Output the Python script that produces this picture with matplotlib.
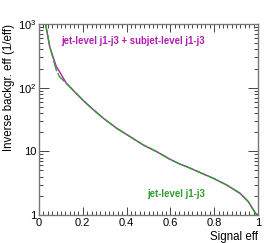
import matplotlib
matplotlib.use("Agg")
import matplotlib.pyplot as plt
from matplotlib.ticker import FixedLocator, FixedFormatter, LogLocator, NullFormatter, MultipleLocator

plt.rcParams['font.family'] = ['Liberation Sans', 'DejaVu Sans']
plt.rcParams['mathtext.fontset'] = 'custom'
plt.rcParams['mathtext.rm'] = 'Liberation Sans'

eff_combined = [0.02, 0.03, 0.049, 0.064, 0.079, 0.094, 0.125, 0.163, 0.2, 0.233, 0.294,
                0.355, 0.416, 0.476, 0.537, 0.598, 0.644, 0.682, 0.72, 0.796, 0.857,
                0.918, 0.956, 0.979, 0.99, 1.0]
rej_combined = [1000, 1000, 440, 305, 215, 178, 117, 86, 64, 50, 33,
                23, 17, 12.6, 9.9, 7.5, 6.3, 5.6, 4.9, 3.77, 2.96,
                2.19, 1.62, 1.2, 1.05, 1.0]

eff_jet = [0.02, 0.03, 0.049, 0.064, 0.079, 0.094, 0.125, 0.163, 0.2, 0.233, 0.294,
           0.355, 0.416, 0.476, 0.537, 0.598, 0.644, 0.682, 0.72, 0.796, 0.857,
           0.918, 0.956, 0.979, 0.99, 1.0]
rej_jet = [1000, 1000, 440, 290, 189, 148, 117, 86, 64, 50, 33,
           23, 17, 12.6, 9.9, 7.5, 6.3, 5.6, 4.9, 3.77, 2.96,
           2.19, 1.62, 1.2, 1.05, 1.0]

x_ticks = [0, 0.2, 0.4, 0.6, 0.8, 1.0]
x_tick_labels = ['0', '0.2', '0.4', '0.6', '0.8', '1']
y_ticks = [1, 10, 100, 1000]
y_tick_labels = ['1', '10', '10$^{2}$', '10$^{3}$']

label_combined = 'jet-level j1-j3 + subjet-level j1-j3'
label_jet = 'jet-level j1-j3'

magenta = '#b01eb0'
green = '#2f9e2f'

fig = plt.figure(figsize=(2.66, 2.43), dpi=100)
ax = fig.add_axes([39/266, 28/243, 219/266, 191/243])

ax.plot(eff_combined, rej_combined, color=magenta, lw=1.0, clip_on=True)
ax.plot(eff_jet, rej_jet, color=green, lw=1.0, dashes=(8, 1.5), clip_on=True)

ax.set_yscale('log')
ax.set_xlim(0, 1)
ax.set_ylim(1, 1000)

ax.xaxis.set_major_locator(FixedLocator(x_ticks))
ax.xaxis.set_major_formatter(FixedFormatter(x_tick_labels))
ax.xaxis.set_minor_locator(MultipleLocator(0.02))
ax.yaxis.set_major_locator(FixedLocator(y_ticks))
ax.yaxis.set_major_formatter(FixedFormatter(y_tick_labels))
ax.yaxis.set_minor_locator(LogLocator(base=10, subs=range(2, 10)))
ax.yaxis.set_minor_formatter(NullFormatter())

framecol = '#777777'
for s in ax.spines.values():
    s.set_color(framecol)
    s.set_linewidth(1.0)

ax.tick_params(which='both', direction='in', top=True, right=True, color='#444444',
               labelsize=8, pad=2, width=0.7)
ax.tick_params(which='major', length=6)
ax.tick_params(which='minor', length=3)
ax.tick_params(axis='y', which='major', length=7)

ax.set_xlabel('Signal eff', fontsize=8.3, loc='right', labelpad=2)
ax.set_ylabel('Inverse backgr. eff (1/eff)', fontsize=8.3, loc='top', labelpad=2)

ax.text(0.1, 0.91, label_combined, transform=ax.transAxes, color=magenta,
        fontsize=6.9, fontweight='bold', ha='left', va='center')
ax.text(0.493, 0.11, label_jet, transform=ax.transAxes, color=green,
        fontsize=6.9, fontweight='bold', ha='left', va='center')

fig.savefig('out.png', dpi=100)
